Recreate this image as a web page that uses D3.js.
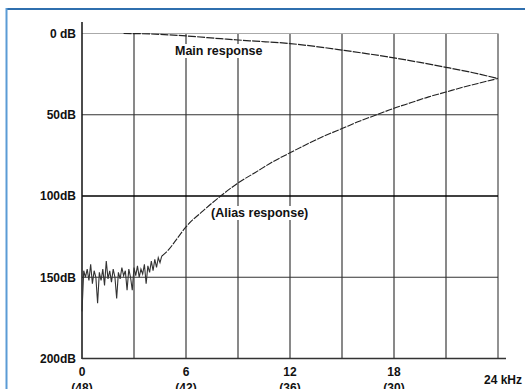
<!DOCTYPE html>
<html>
<head>
<meta charset="utf-8">
<script src="https://cdn.jsdelivr.net/npm/d3@7"></script>
<style>
  html, body { margin: 0; padding: 0; background: #fff; }
  svg { display: block; }
  text { font-family: "Liberation Sans", Arial, sans-serif; font-weight: bold; fill: #111; }
</style>
</head>
<body>
<svg id="chart" width="525" height="389"></svg>
<script>
// ---- data ----
const xTicks = [0, 6, 12, 18];
const xTickSub = ["(48)", "(42)", "(36)", "(30)"];
const xEndLabel = "24 kHz";
const yTicks = [0, 50, 100, 150, 200];
const yTickLabels = ["0 dB", "50dB", "100dB", "150dB", "200dB"];
const gridX = [3, 6, 9, 12, 15, 18, 21, 24];

// main response (kHz, dB attenuation)
const mainFreq = [2.4, 4, 6, 8, 9, 10, 12, 13.5, 15, 16.5, 18, 19.5, 21, 22.5, 24];
const mainDb   = [0, 0.3, 1.5, 3.2, 4, 4.7, 6.2, 8, 10.2, 12.5, 15, 17.8, 20.8, 24, 27.7];

// alias response noise floor, 0..4.6 kHz every 0.1 kHz
const noiseStart = 0, noiseStep = 0.1;
const noiseDb = [171, 146, 150, 145, 152, 142, 154, 146, 150, 166,
                 147, 152, 145, 155, 140, 151, 146, 153, 145, 150,
                 163, 147, 151, 144, 149, 146, 158, 145, 150, 158,
                 144, 149, 143, 150, 145, 148, 142, 154, 143, 147,
                 140, 146, 139, 144, 138, 141, 137];

// alias response smooth part
const aliasFreq = [4.6, 5, 5.5, 6, 7, 8, 9, 10, 11, 12, 13, 14, 15, 16, 17, 18, 19, 20, 21, 22, 23, 24];
const aliasDb   = [137, 133, 126, 119, 109, 100, 92, 85.5, 79, 73.4, 68, 63, 58.5, 54, 50, 46, 42.5, 39, 36, 33, 30.3, 27.7];

const mainLabel = "Main response";
const aliasLabel = "(Alias response)";

// ---- drawing ----
const svg = d3.select("#chart");
const x = d3.scaleLinear().domain([0, 24]).range([82, 498]);
const y = d3.scaleLinear().domain([0, 200]).range([33.5, 358.5]);

// frame
svg.append("line").attr("x1", 6).attr("x2", 525).attr("y1", 9).attr("y2", 9)
  .attr("stroke", "#2f6fae").attr("stroke-width", 2);
svg.append("line").attr("x1", 6.5).attr("x2", 6.5).attr("y1", 8).attr("y2", 389)
  .attr("stroke", "#5b9bd5").attr("stroke-width", 2);

// vertical grid
svg.append("g").selectAll("line").data(gridX).join("line")
  .attr("x1", d => x(d)).attr("x2", d => x(d))
  .attr("y1", y(0)).attr("y2", y(200))
  .attr("stroke", d => d === 24 ? "#777" : "#4a4a4a")
  .attr("stroke-width", d => d === 24 ? 1.6 : 1.3);

// horizontal grid
svg.append("g").selectAll("line").data(yTicks.slice(0, 4)).join("line")
  .attr("x1", x(0)).attr("x2", x(24))
  .attr("y1", d => y(d)).attr("y2", d => y(d))
  .attr("stroke", d => d === 0 ? "#aaa" : (d === 100 ? "#000" : "#333"))
  .attr("stroke-width", d => d === 100 ? 1.6 : 1.1);

// axes
svg.append("line").attr("x1", x(0)).attr("x2", x(0)).attr("y1", 22).attr("y2", y(200) + 0.5)
  .attr("stroke", "#111").attr("stroke-width", 1.5);
svg.append("line").attr("x1", x(0)).attr("x2", 506).attr("y1", y(200)).attr("y2", y(200))
  .attr("stroke", "#333").attr("stroke-width", 1.5);

// y labels
svg.append("g").selectAll("text").data(yTicks).join("text")
  .attr("x", 76).attr("y", d => y(d)).attr("dy", "0.36em")
  .attr("text-anchor", "end").attr("font-size", 12).text((d, i) => yTickLabels[i]);

// x labels
svg.append("g").selectAll("text").data(xTicks).join("text")
  .attr("x", d => x(d)).attr("y", 376).attr("text-anchor", "middle")
  .attr("font-size", 12).text(d => d);
svg.append("g").selectAll("text").data(xTicks).join("text")
  .attr("x", d => x(d)).attr("y", 392).attr("text-anchor", "middle")
  .attr("font-size", 12).text((d, i) => xTickSub[i]);
svg.append("text").attr("x", 503).attr("y", 384).attr("text-anchor", "middle")
  .attr("font-size", 12).text(xEndLabel);

// curves
const mainPts = mainFreq.map((f, i) => [f, mainDb[i]]);
const noisePts = noiseDb.map((v, i) => [noiseStart + i * noiseStep, v]);
const aliasPts = aliasFreq.map((f, i) => [f, aliasDb[i]]);

svg.append("path").attr("d", d3.line().x(d => x(d[0])).y(d => y(d[1])).curve(d3.curveMonotoneX)(mainPts))
  .attr("fill", "none").attr("stroke", "#222").attr("stroke-width", 1.2)
  .attr("stroke-dasharray", "8,1.2");
svg.append("path").attr("d", d3.line().x(d => x(d[0])).y(d => y(d[1]))(noisePts))
  .attr("fill", "none").attr("stroke", "#333").attr("stroke-width", 1.1);
svg.append("path").attr("d", d3.line().x(d => x(d[0])).y(d => y(d[1])).curve(d3.curveMonotoneX)(aliasPts))
  .attr("fill", "none").attr("stroke", "#222").attr("stroke-width", 1.1)
  .attr("stroke-dasharray", "7,1.2");

// labels with white background
function label(txt, xPos, yPos) {
  const g = svg.append("g");
  const r = g.append("rect").attr("fill", "#fff");
  const t = g.append("text").attr("x", xPos).attr("y", yPos).attr("font-size", 12.5).text(txt);
  const b = t.node().getBBox();
  r.attr("x", b.x - 1).attr("y", b.y).attr("width", b.width + 2).attr("height", b.height);
}
label(mainLabel, 175, 55);
label(aliasLabel, 211, 217);
</script>
</body>
</html>
